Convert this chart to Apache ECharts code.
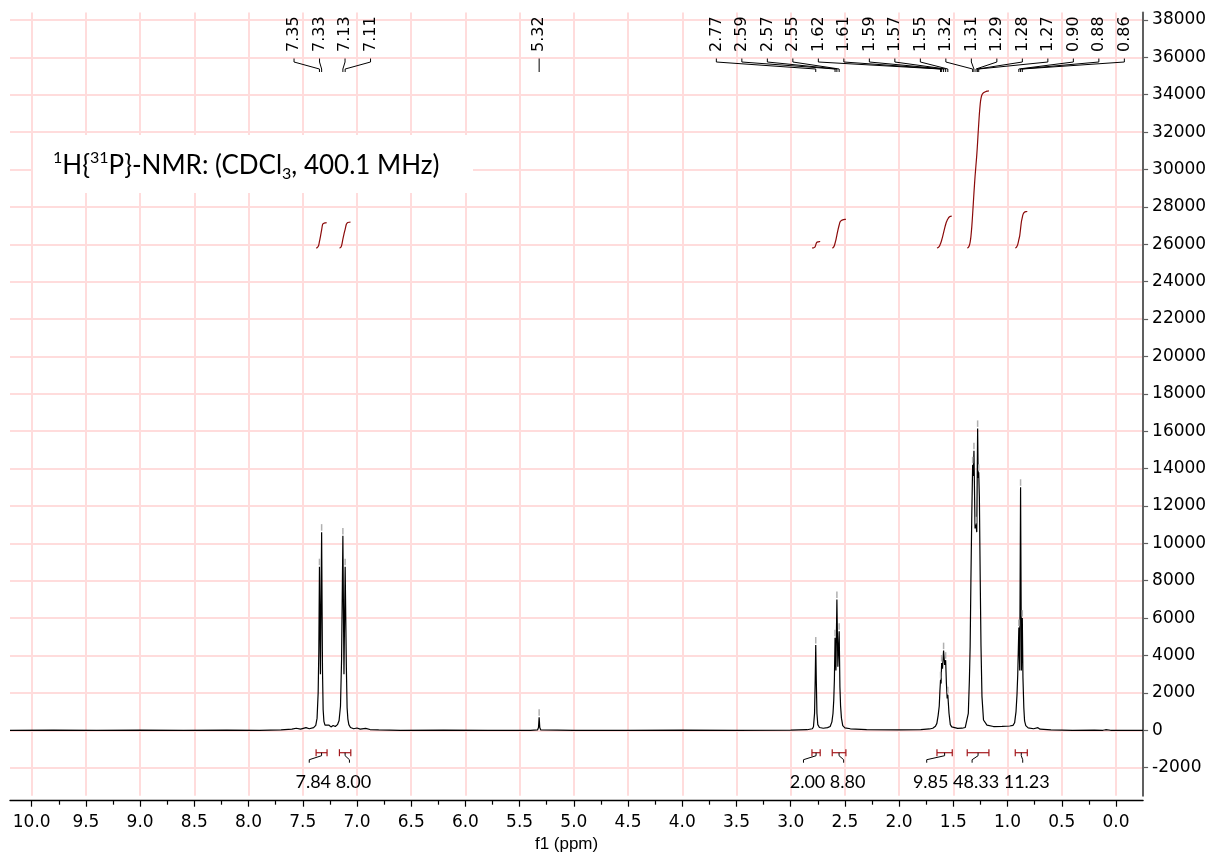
<!DOCTYPE html>
<html>
<head>
<meta charset="utf-8">
<script src="https://cdn.jsdelivr.net/npm/echarts@6/dist/echarts.min.js"></script>
<style>
  html, body { margin: 0; padding: 0; background: #fff; }
  #chart { width: 1215px; height: 855px; }
</style>
</head>
<body>
<div id="chart"></div>
<script>
// ---- Picked lines: chemical shift (ppm) and peak height ----
const peakShift  = [7.346, 7.326, 7.130, 7.109, 5.320, 2.769, 2.591, 2.574, 2.553,
                    1.618, 1.608, 1.590, 1.571, 1.551, 1.322, 1.310, 1.291, 1.276, 1.266,
                    0.896, 0.880, 0.864];
const peakHeight = [8750, 10600, 10400, 8750, 700, 4560, 4950, 7000, 5300,
                    2700, 3600, 4260, 3750, 1900, 14200, 14950, 11000, 16150, 13800,
                    5500, 13000, 6000];

// ---- Trace between the picked lines: baseline, feet, valleys ----
const traceShift = [10.20, 9.80, 9.40, 9.00, 8.60, 8.20, 7.90, 7.70, 7.60, 7.56, 7.52, 7.47, 7.44, 7.40,
  7.380, 7.368, 7.358, 7.352, 7.337, 7.318, 7.312, 7.305, 7.295, 7.280, 7.260, 7.240, 7.220, 7.200,
  7.180, 7.165, 7.152, 7.142, 7.120, 7.098, 7.091, 7.084, 7.075, 7.060, 7.030, 7.000, 6.970, 6.920,
  6.880, 6.800, 6.600, 6.200, 5.800, 5.400, 5.335, 5.326, 5.314, 5.305, 5.000, 4.500, 4.000, 3.500,
  3.000, 2.850, 2.800, 2.790, 2.780, 2.774, 2.764, 2.758, 2.750, 2.735, 2.700, 2.660, 2.636, 2.620,
  2.610, 2.603, 2.597, 2.583, 2.565, 2.546, 2.540, 2.532, 2.520, 2.500, 2.450, 2.300, 2.000, 1.800,
  1.720, 1.690, 1.665, 1.652, 1.640, 1.630, 1.624, 1.613, 1.600, 1.580, 1.564, 1.557, 1.540, 1.528,
  1.515, 1.500, 1.460, 1.420, 1.390, 1.375, 1.362, 1.352, 1.345, 1.338, 1.330, 1.316, 1.300, 1.284,
  1.271, 1.260, 1.252, 1.245, 1.236, 1.222, 1.190, 1.130, 1.050, 0.980, 0.950, 0.935, 0.922, 0.913,
  0.906, 0.888, 0.872, 0.858, 0.850, 0.843, 0.832, 0.810, 0.760, 0.720, 0.700, 0.600, 0.400, 0.200,
  0.120, 0.095, 0.088, 0.082, 0.050, -0.250];
const traceIntensity = [0, 10, 0, 10, 0, 10, 0, 20, 60, 110, 60, 140, 80, 140,
  260, 650, 2000, 4200, 3000, 3200, 1100, 480, 280, 200, 280, 180, 260, 200,
  300, 520, 1300, 3800, 3000, 3400, 1200, 600, 300, 150, 80, 120, 60, 100,
  40, 20, 0, 10, 0, 0, 20, 150, 150, 20, 0, 0, 10, 0,
  10, 30, 80, 190, 910, 2700, 2700, 910, 300, 150, 110, 140, 200, 450,
  900, 1600, 2700, 3200, 3400, 2300, 1300, 650, 250, 130, 80, 40, 20, 40,
  70, 110, 220, 370, 800, 1300, 2100, 2500, 3300, 3500, 2500, 1700, 910, 300,
  180, 120, 100, 110, 150, 250, 900, 2700, 4500, 8000, 11500, 13600, 10800, 10600,
  13500, 12500, 8000, 4500, 1800, 550, 280, 200, 210, 230, 260, 400, 1000, 1900,
  3000, 3200, 3200, 2800, 1200, 500, 250, 130, 80, 140, 60, 20, 0, 10,
  0, 30, 120, 30, 0, 0];

// ---- Integrals: region limits (ppm) and normalised values ----
const intFrom  = [7.377, 7.162, 2.804, 2.617, 1.651, 1.372, 0.929];
const intTo    = [7.276, 7.057, 2.728, 2.491, 1.510, 1.172, 0.818];
const intValue = [7.84, 8.00, 2.00, 8.80, 9.85, 48.33, 11.23];

// ---- Axis ticks ----
const xTicks = [10.0, 9.5, 9.0, 8.5, 8.0, 7.5, 7.0, 6.5, 6.0, 5.5, 5.0, 4.5, 4.0, 3.5, 3.0, 2.5, 2.0, 1.5, 1.0, 0.5, 0.0];
const xMinorTicks = [9.75, 9.25, 8.75, 8.25, 7.75, 7.25, 6.75, 6.25, 5.75, 5.25, 4.75, 4.25, 3.75, 3.25, 2.75, 2.25, 1.75, 1.25, 0.75, 0.25];
const yTicks = [-2000, 0, 2000, 4000, 6000, 8000, 10000, 12000, 14000, 16000, 18000, 20000,
                22000, 24000, 26000, 28000, 30000, 32000, 34000, 36000, 38000];

// ---- Styling constants ----
const GRID_PINK = '#ffdcdc';
const INT_RED = '#8b0a0a';
const BRACKET_RED = '#a3171b';
const TICK_FONT = '"DejaVu Sans"';
const PEAK_FONT = '16px "DejaVu Sans"';
const INT_FONT = '18px Lato';
const INT_BASE = 25800;        // integral curves start level
const INT_SCALE = 174;         // curve rise per integral unit
const BRACKET_LEVEL = -1200;   // integral region brackets
const INT_LABEL_LEVEL = -2780; // integral value labels
const LABEL_PITCH = 25.5;      // spacing of shift labels (px)

// Full trace: picked tops merged with the shape points, high field last
const spectrum = traceShift.map((s, i) => [s, traceIntensity[i]])
  .concat(peakShift.map((s, i) => [s, peakHeight[i]]))
  .sort((a, b) => b[0] - a[0]);

// Running integral over one region, scaled to its stated value
function integralCurve(k) {
  const hi = intFrom[k], lo = intTo[k];
  const pts = [[hi, 0]]
    .concat(spectrum.filter(p => p[0] < hi && p[0] > lo))
    .concat([[lo, 0]]);
  const cum = [0];
  for (let i = 1; i < pts.length; i++) {
    cum.push(cum[i - 1] + (pts[i - 1][1] + pts[i][1]) / 2 * (pts[i - 1][0] - pts[i][0]));
  }
  const total = cum[cum.length - 1];
  return pts.map((p, i) => [p[0], INT_BASE + intValue[k] * INT_SCALE * cum[i] / total]);
}

const measureCtx = document.createElement('canvas').getContext('2d');
function textWidth(t, font) { measureCtx.font = font; return measureCtx.measureText(t).width; }

// Spread labels so they do not overlap; clusters centre on their marks
function spread(ideal, widths, gap, minX, maxX) {
  const clusters = [];
  const place = c => {
    const start = c.sum / c.ids.length - c.width / 2;
    return Math.min(Math.max(start, minX), maxX - c.width);
  };
  ideal.forEach((c, i) => {
    clusters.push({ ids: [i], sum: c, width: widths[i] });
    while (clusters.length > 1) {
      const b = clusters[clusters.length - 1], a = clusters[clusters.length - 2];
      if (place(a) + a.width + gap > place(b)) {
        a.ids = a.ids.concat(b.ids);
        a.sum += b.sum;
        a.width += gap + b.width;
        clusters.pop();
      } else break;
    }
  });
  const centers = new Array(ideal.length);
  clusters.forEach(c => {
    let x = place(c);
    c.ids.forEach(i => { centers[i] = x + widths[i] / 2; x += widths[i] + gap; });
  });
  return centers;
}

function renderPeakLabel(params, api) {
  const cs = params.coordSys;
  const ideal = peakShift.map(s => api.coord([s, 0])[0]);
  const centers = spread(ideal, ideal.map(() => LABEL_PITCH), 0, cs.x, cs.x + cs.width - 6);
  const i = params.dataIndex;
  const lx = centers[i];
  const top = api.coord([peakShift[i], peakHeight[i]]);
  const y0 = cs.y;
  return {
    type: 'group',
    children: [
      { type: 'text', x: lx, y: y0 + 39.5, rotation: Math.PI / 2,
        style: { text: peakShift[i].toFixed(2), font: PEAK_FONT, fill: '#000', align: 'left', verticalAlign: 'middle' } },
      { type: 'polyline',
        shape: { points: [[lx, y0 + 46], [lx, y0 + 49.5], [top[0], y0 + 56.5], [top[0], y0 + 59.5]] },
        style: { stroke: '#000', lineWidth: 1, fill: 'none' } },
      { type: 'line', shape: { x1: top[0], y1: top[1] - 1.5, x2: top[0], y2: top[1] - 8 },
        style: { stroke: '#b0b0b0', lineWidth: 1.5 } }
    ]
  };
}

function renderIntegralMark(params, api) {
  const cs = params.coordSys;
  const i = params.dataIndex;
  const labels = intValue.map(v => v.toFixed(2));
  const ideal = intFrom.map((f, k) => (api.coord([f, 0])[0] + api.coord([intTo[k], 0])[0]) / 2);
  const widths = labels.map(t => textWidth(t, INT_FONT));
  const lc = spread(ideal, widths, textWidth(' ', INT_FONT), cs.x, cs.x + cs.width)[i];
  const x1 = api.coord([intFrom[i], 0])[0];
  const x2 = api.coord([intTo[i], 0])[0];
  const by = api.coord([0, BRACKET_LEVEL])[1];
  const ly = api.coord([0, INT_LABEL_LEVEL])[1];
  const bc = (x1 + x2) / 2, hx = lc - 4;
  const red = { stroke: BRACKET_RED, lineWidth: 1.2 };
  return {
    type: 'group',
    children: [
      { type: 'line', shape: { x1: x1, y1: by, x2: x2, y2: by }, style: red },
      { type: 'line', shape: { x1: x1, y1: by - 3.5, x2: x1, y2: by + 3.5 }, style: red },
      { type: 'line', shape: { x1: x2, y1: by - 3.5, x2: x2, y2: by + 3.5 }, style: red },
      { type: 'polyline', shape: { points: [[bc, by], [bc, by + 3], [hx, by + 7], [hx, by + 10]] },
        style: { stroke: '#000', lineWidth: 1, fill: 'none' } },
      { type: 'text', x: lc, y: ly,
        style: { text: labels[i], font: INT_FONT, fill: '#000', align: 'center', verticalAlign: 'middle' } }
    ]
  };
}

const integralSeries = intValue.map((v, k) => ({
  type: 'line',
  data: integralCurve(k),
  showSymbol: false,
  smooth: 0.3,
  lineStyle: { color: INT_RED, width: 1.2 },
  z: 4,
  silent: true
}));

const chart = echarts.init(document.getElementById('chart'), null, { renderer: 'canvas' });

chart.setOption({
  animation: false,
  backgroundColor: '#fff',
  grid: { left: 10, right: 71.9, top: 12.5, bottom: 59.3, containLabel: false, outerBoundsMode: 'none' },
  xAxis: [{
    type: 'value', min: -0.25, max: 10.2, inverse: true, position: 'bottom', offset: 5,
    axisLine: { show: true, onZero: false, lineStyle: { color: '#000', width: 1.3 } },
    axisTick: { show: true, length: 6, customValues: xTicks, lineStyle: { color: '#000', width: 1.2 } },
    axisLabel: { customValues: xTicks, formatter: v => v.toFixed(1), margin: 13,
                 fontFamily: TICK_FONT, fontSize: 17, color: '#000' },
    splitLine: { show: true, lineStyle: { color: GRID_PINK, width: 2 } },
    name: 'f1 (ppm)', nameLocation: 'middle', nameGap: 34,
    nameTextStyle: { fontFamily: 'Liberation Sans', fontSize: 17, color: '#000', padding: [0, 20, 0, 0] }
  }, {
    type: 'value', min: -0.25, max: 10.2, inverse: true, position: 'bottom', offset: 5,
    axisLine: { show: false, onZero: false },
    axisTick: { show: true, length: 4, customValues: xMinorTicks, lineStyle: { color: '#000', width: 1.2 } },
    axisLabel: { show: false },
    splitLine: { show: false }
  }],
  yAxis: {
    type: 'value', position: 'right', min: -3500, max: 38400,
    axisLine: { show: true, onZero: false, lineStyle: { color: '#606060', width: 2 } },
    axisTick: { show: true, inside: false, length: 5, customValues: yTicks, lineStyle: { color: '#606060', width: 1.2 } },
    axisLabel: { customValues: yTicks, formatter: v => String(v), margin: 9,
                 fontFamily: TICK_FONT, fontSize: 17, color: '#000' },
    splitLine: { show: true, lineStyle: { color: GRID_PINK, width: 2 } }
  },
  graphic: [
    { type: 'rect', left: 33, top: 135, z: 50, shape: { width: 440, height: 58 }, style: { fill: '#fff' } },
    { type: 'text', left: 53, top: 150, z: 51,
      style: {
        text: '{sup|1}H{{sup|31}P}-NMR: (CDCl{sub|3}, 400.1 MHz)',
        fontFamily: 'Lato', fontSize: 26, fill: '#000', lineHeight: 32,
        rich: {
          sup: { fontFamily: 'Lato', fontSize: 16, verticalAlign: 'top', lineHeight: 32 },
          sub: { fontFamily: 'Lato', fontSize: 16, verticalAlign: 'bottom', lineHeight: 32 }
        }
      } }
  ],
  series: [{
    type: 'line',
    data: spectrum,
    showSymbol: false,
    lineStyle: { color: '#000', width: 1.2 },
    z: 3,
    silent: true
  }].concat(integralSeries).concat([{
    type: 'custom',
    data: peakShift.map((s, i) => [s, peakHeight[i]]),
    renderItem: renderPeakLabel,
    clip: false,
    z: 5,
    silent: true
  }, {
    type: 'custom',
    data: intFrom.map((f, k) => [(f + intTo[k]) / 2, BRACKET_LEVEL]),
    renderItem: renderIntegralMark,
    clip: false,
    z: 5,
    silent: true
  }])
});
</script>
</body>
</html>
